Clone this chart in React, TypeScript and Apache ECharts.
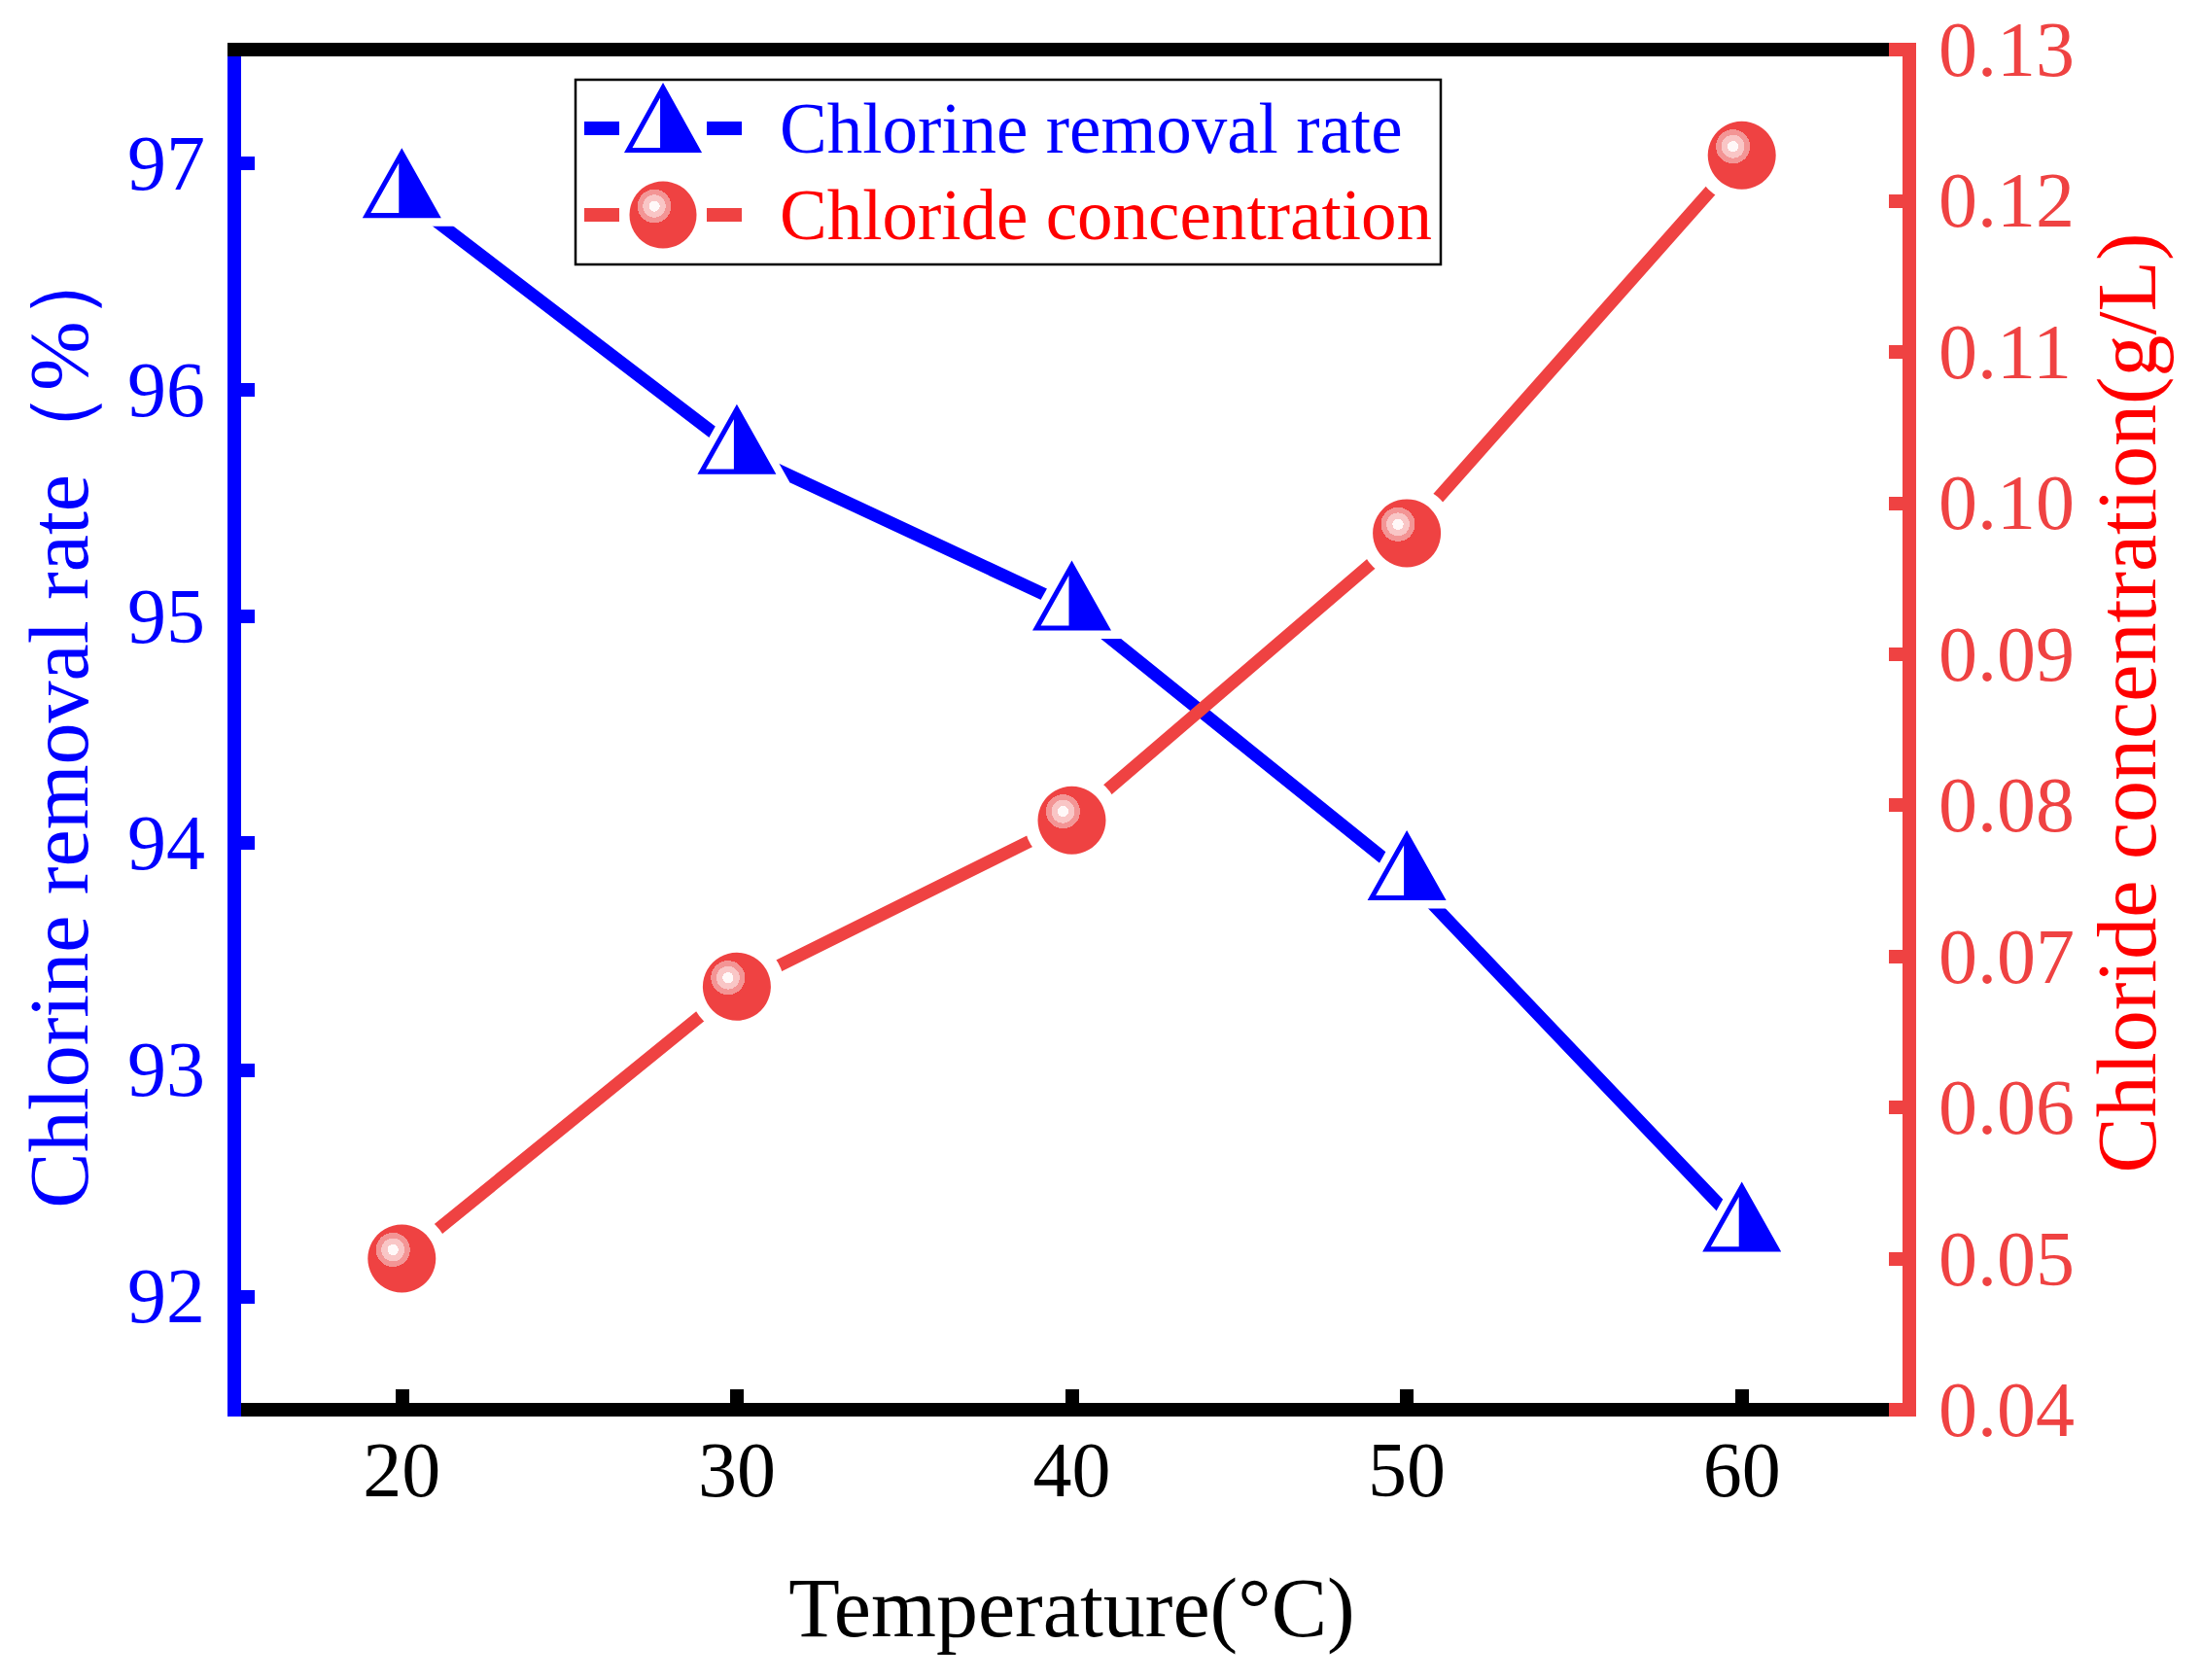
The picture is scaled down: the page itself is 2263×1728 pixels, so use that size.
import React, { useEffect, useRef } from 'react';
import * as echarts from 'echarts';

// values
const temperatures = [20, 30, 40, 50, 60];
const removalRate = [96.86, 95.73, 95.04, 93.85, 92.3];
const chlorideConc = [0.05, 0.068, 0.079, 0.098, 0.123];

const xTicks = [20, 30, 40, 50, 60];
const leftTicks = [92, 93, 94, 95, 96, 97];
const leftMinorTicks = [92.5, 93.5, 94.5, 95.5, 96.5];

const BLUE = '#0000FF';
const RED = '#EF4242';
const RED_TITLE = '#FF0000';
const FONT = '"Liberation Serif", "Times New Roman", serif';

// half-filled up triangle (left half hollow)
const TRI = 'M40.5 0 L81 70 L0 70 Z M37.5 15 L8.6 65 L37.5 65 Z';
const TRI_FULL = 'M40.5 0 L81 70 L0 70 Z';

echarts.graphic.registerShape('halfTri', echarts.graphic.extendPath(TRI, {}));

const ballFill = () =>
  new echarts.graphic.RadialGradient(0.37, 0.37, 0.5, [
    { offset: 0, color: '#FFF8F8' },
    { offset: 0.16, color: '#FFF8F8' },
    { offset: 0.16, color: '#F9C6C6' },
    { offset: 0.34, color: '#F9C6C6' },
    { offset: 0.34, color: '#F39595' },
    { offset: 0.5, color: '#F39595' },
    { offset: 0.5, color: RED },
    { offset: 1, color: RED },
  ]);

const App: React.FC = () => {
  const chartRef = useRef<HTMLDivElement>(null);

  useEffect(() => {
    if (!chartRef.current) return;
    const chart = echarts.init(chartRef.current, null, { renderer: 'svg' });

    const bluePts = temperatures.map((t, i) => [t, removalRate[i]]);
    const redPts = temperatures.map((t, i) => [t, chlorideConc[i]]);

    const labelStyle = (color: string) => ({ color, fontSize: 80, fontFamily: FONT });
    const nameStyle = (color: string, padding: number[]) => ({
      color,
      fontSize: 86,
      fontFamily: FONT,
      padding,
    });

    const option: any = {
      animation: false,
      backgroundColor: '#fff',
      grid: { left: 241, right: 299, top: 51, bottom: 278, containLabel: false },
      xAxis: [
        {
          type: 'value',
          position: 'bottom',
          min: 15,
          max: 65,
          z: 1,
          axisLine: { show: true, onZero: false, lineStyle: { color: '#000', width: 14, cap: 'square' } },
          axisTick: { show: true, inside: true, length: 21, customValues: xTicks, lineStyle: { color: '#000', width: 14 } },
          axisLabel: { customValues: xTicks, margin: 22, ...labelStyle('#000') },
          splitLine: { show: false },
          name: 'Temperature(°C)',
          nameLocation: 'middle',
          nameGap: 161,
          nameTextStyle: nameStyle('#000', [0, 0, 0, 0]),
        },
        {
          type: 'value',
          position: 'top',
          min: 15,
          max: 65,
          z: 3,
          axisLine: { show: true, onZero: false, lineStyle: { color: '#000', width: 14, cap: 'square' } },
          axisTick: { show: false },
          axisLabel: { show: false },
          splitLine: { show: false },
        },
      ],
      yAxis: [
        {
          type: 'value',
          position: 'left',
          min: 91.5,
          max: 97.5,
          z: 2,
          axisLine: { show: true, onZero: false, lineStyle: { color: BLUE, width: 14, cap: 'square' } },
          axisTick: { show: true, inside: true, length: 21, customValues: leftTicks, lineStyle: { color: BLUE, width: 14 } },
          axisLabel: { customValues: leftTicks, margin: 30, ...labelStyle(BLUE) },
          splitLine: { show: false },
          name: 'Chlorine removal rate（%）',
          nameLocation: 'middle',
          nameRotate: 90,
          nameGap: 137,
          nameTextStyle: nameStyle(BLUE, [0, 0, 0, 14]),
        },
        {
          type: 'value',
          position: 'right',
          min: 0.04,
          max: 0.13,
          interval: 0.01,
          z: 4,
          axisLine: { show: true, onZero: false, lineStyle: { color: RED, width: 14, cap: 'square' } },
          axisTick: { show: true, inside: true, length: 21, lineStyle: { color: RED, width: 14 } },
          minorTick: { show: true, splitNumber: 2, length: 7, lineStyle: { color: RED, width: 14 } },
          axisLabel: { margin: 30, formatter: (v: number) => v.toFixed(2), ...labelStyle(RED) },
          splitLine: { show: false },
          name: 'Chloride concentration(g/L)',
          nameLocation: 'middle',
          nameRotate: 90,
          nameGap: 181,
          nameTextStyle: nameStyle(RED_TITLE, [0, 0, 0, 55]),
        },
        {
          // minor ticks of the left axis
          type: 'value',
          position: 'left',
          min: 91.5,
          max: 97.5,
          z: 2,
          axisLine: { show: false },
          axisTick: { show: true, inside: true, length: 7, customValues: leftMinorTicks, lineStyle: { color: BLUE, width: 14 } },
          axisLabel: { show: false },
          splitLine: { show: false },
        },
      ],
      series: [
        {
          type: 'line',
          name: 'Chlorine removal rate',
          yAxisIndex: 0,
          data: bluePts,
          symbol: 'path://' + TRI_FULL,
          symbolSize: [109, 97],
          symbolOffset: [0, -16],
          itemStyle: { color: '#fff', opacity: 1 },
          lineStyle: { color: BLUE, width: 13 },
          z: 2,
        },
        {
          type: 'line',
          name: 'Chloride concentration',
          yAxisIndex: 1,
          data: redPts,
          symbol: 'circle',
          symbolSize: 98,
          itemStyle: { color: '#fff', opacity: 1 },
          lineStyle: { color: RED, width: 13 },
          z: 2,
        },
        {
          type: 'scatter',
          name: 'Chlorine removal rate',
          yAxisIndex: 0,
          data: bluePts,
          symbol: 'path://' + TRI,
          symbolSize: [81, 72],
          symbolOffset: [0, -12],
          itemStyle: { color: BLUE, opacity: 1 },
          z: 5,
        },
        {
          type: 'scatter',
          name: 'Chloride concentration',
          yAxisIndex: 1,
          data: redPts,
          symbol: 'circle',
          symbolSize: 70,
          itemStyle: { color: ballFill(), opacity: 1 },
          z: 5,
        },
      ],
      graphic: [
        {
          type: 'group',
          z: 100,
          children: [
            { type: 'rect', shape: { x: 592, y: 82, width: 890, height: 190 }, style: { fill: '#fff', stroke: '#000', lineWidth: 2.5 } },
            { type: 'rect', shape: { x: 601, y: 125, width: 36, height: 14 }, style: { fill: BLUE } },
            { type: 'rect', shape: { x: 727, y: 125, width: 36, height: 14 }, style: { fill: BLUE } },
            { type: 'halfTri', x: 642, y: 85, scaleX: 80 / 81, scaleY: 72 / 70, style: { fill: BLUE } },
            {
              type: 'text',
              x: 802,
              y: 132,
              style: { text: 'Chlorine removal rate', fill: BLUE, fontSize: 73, fontFamily: FONT, verticalAlign: 'middle' },
            },
            { type: 'rect', shape: { x: 601, y: 214, width: 36, height: 14 }, style: { fill: RED } },
            { type: 'rect', shape: { x: 727, y: 214, width: 36, height: 14 }, style: { fill: RED } },
            { type: 'circle', shape: { cx: 682, cy: 221, r: 34.5 }, style: { fill: ballFill() } },
            {
              type: 'text',
              x: 802,
              y: 221,
              style: { text: 'Chloride concentration', fill: RED_TITLE, fontSize: 73, fontFamily: FONT, verticalAlign: 'middle' },
            },
          ],
        },
      ],
    };

    chart.setOption(option);
    return () => chart.dispose();
  }, []);

  return (
    <div
      ref={chartRef}
      style={{ position: 'absolute', left: 0, top: 0, width: 2263, height: 1728 }}
    />
  );
};

export default App;
